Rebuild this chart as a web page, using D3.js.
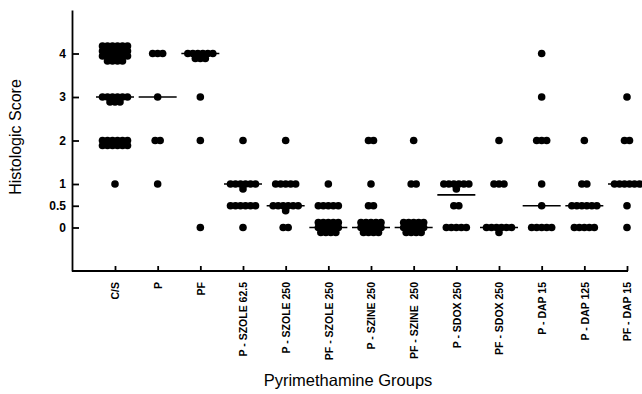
<!DOCTYPE html>
<html>
<head>
<meta charset="utf-8">
<script src="https://cdn.jsdelivr.net/npm/d3@7"></script>
<style>
  body { margin: 0; background: #fff; }
  text { font-family: "Liberation Sans", Arial, sans-serif; fill: #000; }
</style>
</head>
<body>
<div class="chart"></div>
<script>
// groups along the x axis
const groups = ["C/S", "P", "PF", "P - SZOLE 62.5", "P - SZOLE 250", "PF - SZOLE 250",
  "P - SZINE 250", "PF - SZINE  250", "P - SDOX 250", "PF - SDOX 250",
  "P - DAP 15", "P - DAP 125", "PF - DAP 15"];

// number of animals at each score, one array per score level (same order as groups)
const countAt4  = [22, 3, 9, 0, 0, 0, 0, 0, 0, 0, 1, 0, 0];
const countAt3  = [9, 1, 1, 0, 0, 0, 0, 0, 0, 0, 1, 0, 1];
const countAt2  = [12, 2, 1, 1, 1, 0, 2, 1, 0, 1, 3, 1, 2];
const countAt1  = [1, 1, 0, 7, 5, 1, 1, 2, 7, 3, 1, 2, 6];
const countAt05 = [0, 0, 0, 6, 7, 5, 2, 0, 2, 0, 1, 6, 1];
const countAt0  = [0, 0, 1, 1, 2, 14, 14, 14, 5, 7, 5, 5, 1];

// median score of each group (horizontal bar)
const medians = [3, 3, 4, 1, 0.5, 0, 0, 0, 0.75, 0, 0.5, 0.5, 1];

const yTicks = [0, 0.5, 1, 2, 3, 4];

let svgWidth = 642;
let svgHeight = 394;

let svg = d3.select(".chart")
  .append("svg")
  .attr("width", svgWidth)
  .attr("height", svgHeight);

let x = d3.scalePoint().domain(groups).range([115, 627]);
let y = d3.scaleLinear().domain([-1, 5]).range([271, 10]);

const levels = [
  {score: 4, counts: countAt4},
  {score: 3, counts: countAt3},
  {score: 2, counts: countAt2},
  {score: 1, counts: countAt1},
  {score: 0.5, counts: countAt05},
  {score: 0, counts: countAt0}
];

// lay out the dots of each cluster in small rows around the group position
const dx = 5, dy = 5;
let dots = [];
groups.forEach((g, gi) => {
  levels.forEach(lv => {
    let n = lv.counts[gi];
    if (!n) return;
    let rows = Math.ceil(n / 6);
    let cols = rows >= 3 ? Math.ceil(n / rows) : 6;
    let top = rows >= 3 ? -(rows - 1) * dy / 2 : 0;
    for (let r = 0; r < rows; r++) {
      let inRow = Math.min(cols, n - r * cols);
      for (let c = 0; c < inRow; c++) {
        dots.push({
          cx: x(g) + (c - (inRow - 1) / 2) * dx,
          cy: y(lv.score) + top + r * dy
        });
      }
    }
  });
});

svg.append("g").selectAll("circle")
  .data(dots)
  .enter().append("circle")
  .attr("cx", d => d.cx)
  .attr("cy", d => d.cy)
  .attr("r", 3.8)
  .attr("fill", "#000");

// median bars
svg.append("g").selectAll("line")
  .data(groups)
  .enter().append("line")
  .attr("x1", d => x(d) - 19)
  .attr("x2", d => x(d) + 19)
  .attr("y1", (d, i) => y(medians[i]))
  .attr("y2", (d, i) => y(medians[i]))
  .attr("stroke", "#000")
  .attr("stroke-width", 1.6);

// y axis
let leftAxis = d3.axisLeft(y)
  .tickValues(yTicks)
  .tickSize(-7)
  .tickSizeOuter(0)
  .tickPadding(6)
  .tickFormat(d => d);

let gy = svg.append("g")
  .attr("transform", "translate(72,0)")
  .call(leftAxis);
gy.selectAll("path, line").attr("stroke", "#000").attr("stroke-width", 1.8);
gy.selectAll("text").style("font-size", "12px").style("font-weight", "bold");

// x axis
let bottomAxis = d3.axisBottom(x)
  .tickSize(-5)
  .tickSizeOuter(0);

let gx = svg.append("g")
  .attr("transform", "translate(0,271)")
  .call(bottomAxis);
gx.select(".domain").remove();
gx.append("line")
  .attr("x1", 72).attr("x2", 628)
  .attr("stroke", "#000").attr("stroke-width", 1.8);
gx.selectAll(".tick line").attr("stroke", "#000").attr("stroke-width", 1.8);
gx.selectAll("text")
  .attr("transform", "rotate(-90)")
  .attr("x", -11)
  .attr("y", 0)
  .attr("dy", "0.35em")
  .style("text-anchor", "end")
  .style("font-size", "10.5px")
  .style("font-weight", "bold")
  .style("white-space", "pre");

// axis titles
svg.append("text")
  .attr("transform", "translate(21,137) rotate(-90)")
  .attr("text-anchor", "middle")
  .style("font-size", "16px")
  .text("Histologic Score");

svg.append("text")
  .attr("x", 348)
  .attr("y", 386)
  .attr("text-anchor", "middle")
  .style("font-size", "16.5px")
  .text("Pyrimethamine Groups");
</script>
</body>
</html>
